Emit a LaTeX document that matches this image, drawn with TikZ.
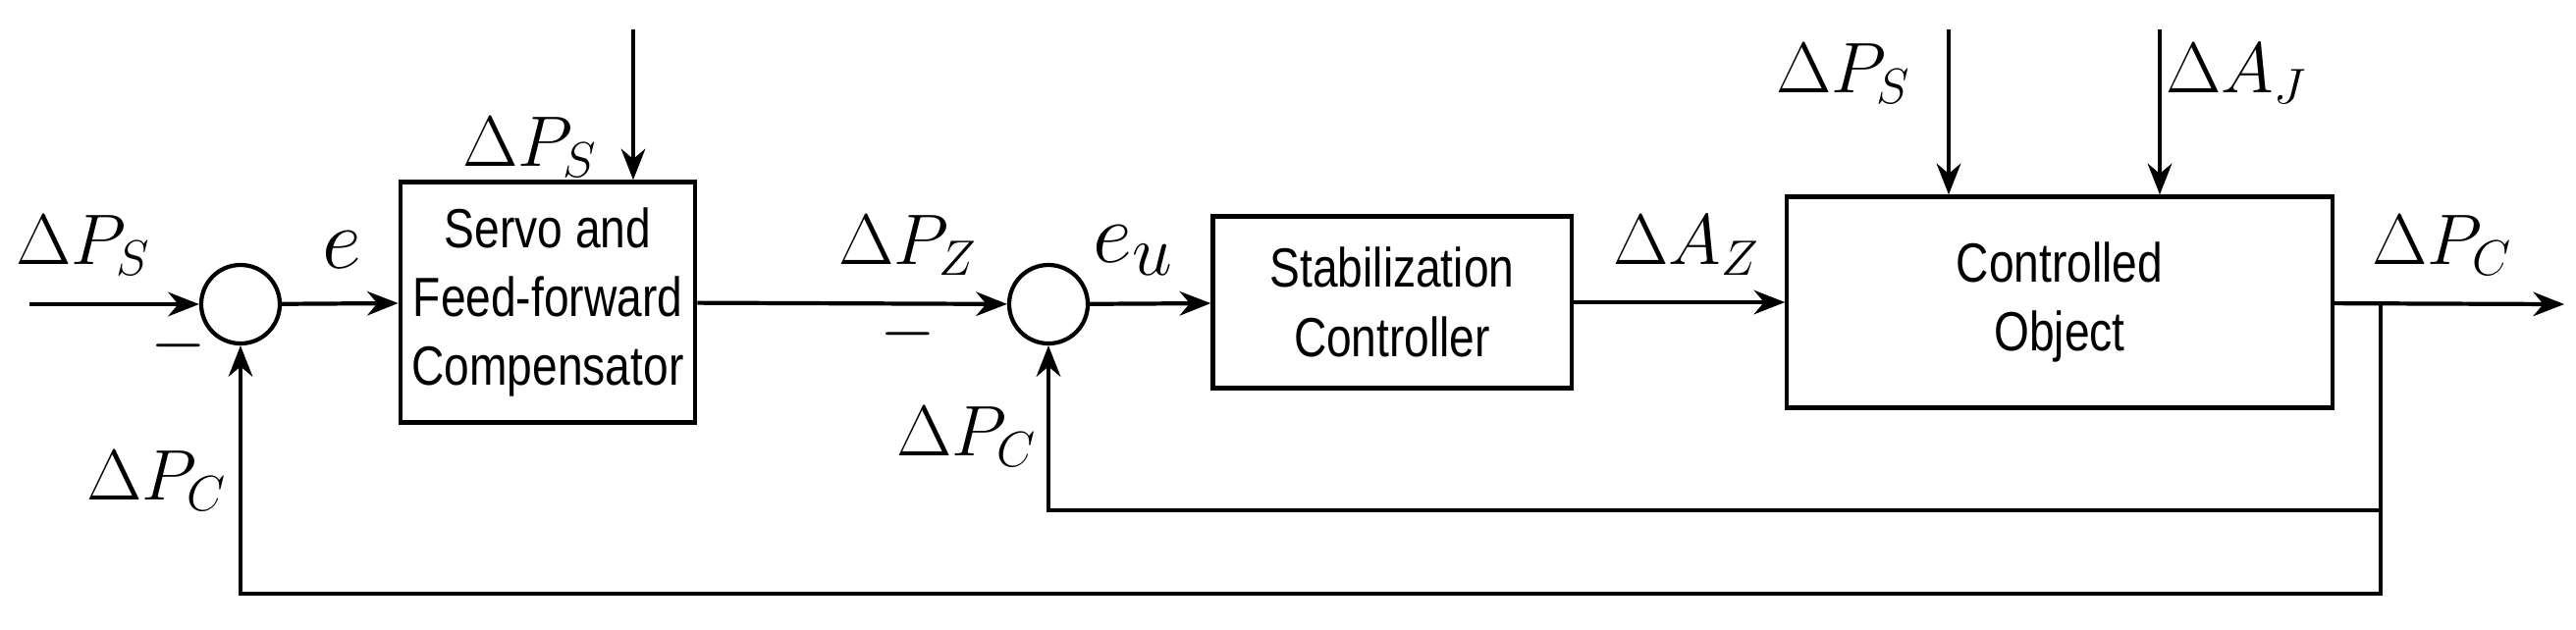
\documentclass[tikz,border=0pt]{standalone}
\usepackage{fontspec}
\setmainfont{Liberation Serif}
\newfontfamily\boxfont[FakeStretch=0.82]{Liberation Sans}
\usepackage{amsmath}
\usetikzlibrary{arrows.meta}

\begin{document}
\begin{tikzpicture}[x=0.01cm, y=-0.01cm,
    block/.style={shape=rectangle, draw=black, line width=1.2pt, align=center, font=\boxfont\fontsize{16}{20}\selectfont},
    sumnode/.style={shape=circle, draw=black, line width=1.2pt, minimum size=0.8cm, inner sep=0pt},
    sig/.style={font=\fontsize{22}{24}\selectfont},
    bigsig/.style={font=\fontsize{30}{32}\selectfont},
    line width=1.2pt, >={Stealth[length=9pt, width=7pt]},
]
\useasboundingbox (0,0) rectangle (2624,641);
\node[sumnode] (s1) at (245,310) {};
\node[sumnode] (s2) at (1068,310) {};
\node[block, minimum width=2.35cm, minimum height=2.45cm] (comp) at (558,308) {Servo and\\Feed-forward\\Compensator};
\node[block, minimum width=3.65cm, minimum height=1.75cm] (stab) at (1418,308) {Stabilization\\Controller};
\node[block, minimum width=5.55cm, minimum height=2.15cm] (plant) at (2098,308) {Controlled\\Object};
\coordinate (in) at (30,310);
\coordinate (out) at (2612,310);
\coordinate (tap) at (2425,310);
\coordinate (tap1) at (2425,520);
\coordinate (tap2) at (2425,605);
\coordinate (d1) at (645,30);
\coordinate (d2) at (1985,30);
\coordinate (d3) at (2200,30);

\draw[->] (in) -- (s1);
\draw[->] (s1) -- (comp);
\draw[->] (comp) -- (s2);
\draw[->] (s2) -- (stab);
\draw[->] (stab) -- (plant);
\draw[->] (plant) -- (out);
\draw[->] (d1) -- (d1 |- comp.north);
\draw[->] (d2) -- (d2 |- plant.north);
\draw[->] (d3) -- (d3 |- plant.north);
\draw[->] (tap) -- (tap1) -| (s2);
\draw[->] (tap1) -- (tap2) -| (s1);

\node[sig] (lps1) at (85,250) {$\Delta P_S$};
\node[bigsig] (le) at (348,255) {$e$};
\node[sig] (lps2) at (540,150) {$\Delta P_S$};
\node[sig] (lm1) at (182,352) {$-$};
\node[sig] (lpc1) at (160,490) {$\Delta P_C$};
\node[sig] (lpz) at (925,250) {$\Delta P_Z$};
\node[sig] (lm2) at (925,340) {$-$};
\node[bigsig] (leu) at (1155,255) {$e_u$};
\node[sig] (lpc2) at (985,445) {$\Delta P_C$};
\node[sig] (laz) at (1718,250) {$\Delta A_Z$};
\node[sig] (lps3) at (1878,75) {$\Delta P_S$};
\node[sig] (laj) at (2278,75) {$\Delta A_J$};
\node[sig] (lpc3) at (2488,250) {$\Delta P_C$};
\end{tikzpicture}
\end{document}
